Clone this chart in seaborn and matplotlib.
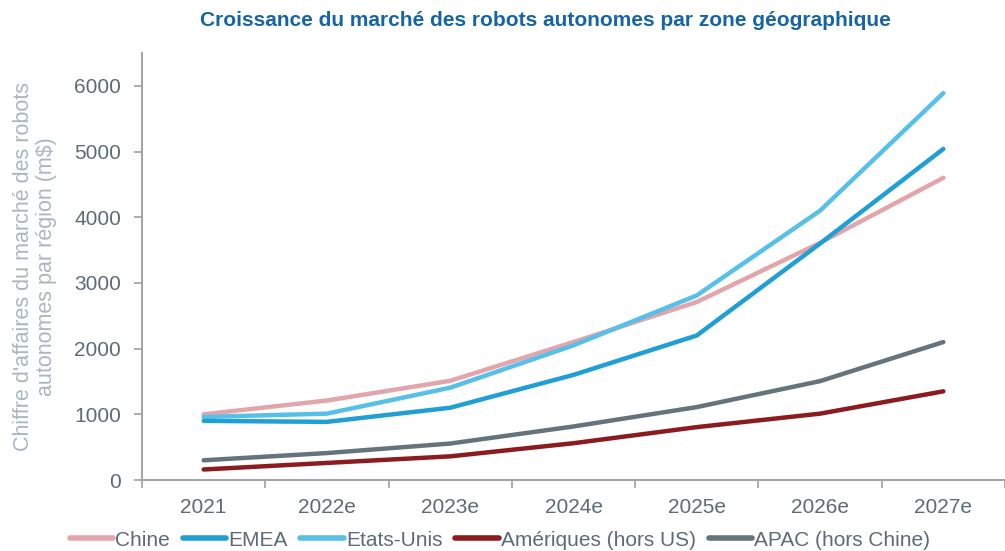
import matplotlib
matplotlib.use("Agg")
import matplotlib.pyplot as plt
import seaborn as sns
import pandas as pd
import numpy as np
from matplotlib.lines import Line2D

years = ["2021", "2022e", "2023e", "2024e", "2025e", "2026e", "2027e"]
chine = [1000, 1210, 1510, 2100, 2710, 3610, 4600]
emea = [900, 885, 1100, 1600, 2200, 3600, 5040]
etats_unis = [960, 1010, 1405, 2050, 2810, 4100, 5890]
ameriques = [160, 260, 360, 560, 805, 1010, 1350]
apac = [300, 410, 555, 815, 1110, 1505, 2100]

series_names = ["Chine", "EMEA", "Etats-Unis", "Amériques (hors US)", "APAC (hors Chine)"]
series_values = [chine, emea, etats_unis, ameriques, apac]
colors = ["#e3a5ac", "#1f9fd3", "#57c0e9", "#8c1b1f", "#65737d"]

rows = []
for name, vals in zip(series_names, series_values):
    for i, (yr, v) in enumerate(zip(years, vals)):
        rows.append({"pos": i, "Année": yr, "Valeur": v, "Série": name})
df = pd.DataFrame(rows)

sns.set_theme(style="white")
plt.rcParams["font.family"] = ["Liberation Sans", "DejaVu Sans"]

fig = plt.figure(figsize=(10.05, 5.51), dpi=100)
ax = fig.add_axes([142/1005, 1-480/551, (1005-142)/1005, (480-53)/551])

palette = dict(zip(series_names, colors))
sns.lineplot(data=df, x="pos", y="Valeur", hue="Série", hue_order=series_names,
             palette=palette, linewidth=3.2, ax=ax, legend=False, sort=False)
z = {"Chine": 2, "EMEA": 4, "Etats-Unis": 3, "Amériques (hors US)": 2, "APAC (hors Chine)": 2}
for line, name in zip(ax.lines, series_names):
    line.set_solid_capstyle("round")
    line.set_solid_joinstyle("round")
    line.set_zorder(z[name])

ax.set_xlim(-0.5, 6.5)
ax.set_ylim(0, 6500)
ax.set_yticks(range(0, 6001, 1000))
ax.set_xticks(range(len(years)))
ax.set_xticklabels(years)
ax.set_xticks(np.arange(-0.5, 6.6, 1), minor=True)

fs = 15
label_color = "#5d6b77"
spine_color = "#a6a6a6"
ax.tick_params(axis="x", which="major", length=0, pad=13, labelsize=fs, labelcolor=label_color)
ax.tick_params(axis="x", which="minor", length=6, width=1.3, color=spine_color, direction="out", bottom=True)
ax.tick_params(axis="y", length=6, width=1.3, color=spine_color, direction="out", left=True,
               labelsize=fs, labelcolor=label_color, pad=9)

for s in ["top", "right"]:
    ax.spines[s].set_visible(False)
for s in ["left", "bottom"]:
    ax.spines[s].set_color(spine_color)
    ax.spines[s].set_linewidth(1.5)

ax.set_xlabel("")
ax.set_ylabel("Chiffre d'affaires du marché des robots\nautonomes par région (m$)",
              fontsize=15.5, color="#a9b7c3", linespacing=1.1)
ax.yaxis.set_label_coords(-0.099, 0.5)

fig.text(545/1005, 1-20/551, "Croissance du marché des robots autonomes par zone géographique",
         ha="center", va="center", fontsize=15, fontweight="bold", color="#1565a6")

handles = [Line2D([0], [0], color=c, lw=4, solid_capstyle="round") for c in colors]
fig.legend(handles, series_names, loc="center", bbox_to_anchor=(500/1005, 1-540/551),
           ncol=5, frameon=False, fontsize=fs, handlelength=2.1, handletextpad=0.1,
           columnspacing=0.6, labelcolor=label_color, borderpad=0)

fig.savefig("out.png", dpi=100)
